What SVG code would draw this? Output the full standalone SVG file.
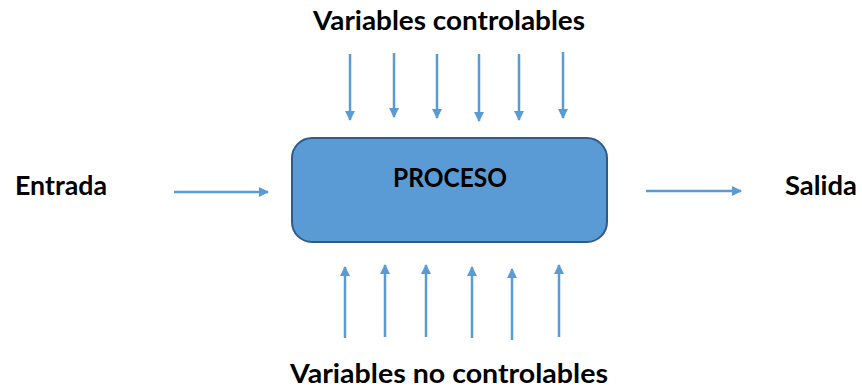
<svg xmlns="http://www.w3.org/2000/svg" width="862" height="390" viewBox="0 0 862 390">
<defs>
<style>
.lbl{font-family:Lato,"Liberation Sans",sans-serif;font-weight:bold;font-size:26px;fill:#000}
.arr{stroke:#5B9BD5;stroke-width:2.5;fill:none;marker-end:url(#ah)}
</style>
<marker id="ah" viewBox="0 0 10 10" refX="9" refY="5" markerWidth="4" markerHeight="4" markerUnits="strokeWidth" orient="auto">
<path d="M0,0 L10,5 L0,10 z" fill="#5B9BD5"/>
</marker>
</defs>
<rect width="862" height="390" fill="#fff"/>
<g id="proceso">
<rect x="292" y="138" width="315" height="104" rx="20" ry="20" fill="#5B9BD5" stroke="#2E5C8A" stroke-width="2"/>
<text class="lbl" x="393" y="187" textLength="114" lengthAdjust="spacingAndGlyphs">PROCESO</text>
</g>
<g id="entrada"><text class="lbl" x="15" y="195" textLength="92" lengthAdjust="spacingAndGlyphs">Entrada</text></g>
<g id="salida"><text class="lbl" x="785" y="195" textLength="72" lengthAdjust="spacingAndGlyphs">Salida</text></g>
<g id="var-controlables"><text class="lbl" x="313" y="30" textLength="272" lengthAdjust="spacingAndGlyphs">Variables controlables</text></g>
<g id="var-no-controlables"><text class="lbl" x="290" y="383" textLength="318" lengthAdjust="spacingAndGlyphs">Variables no controlables</text></g>
<g id="connectors">
<line class="arr" x1="174" y1="192" x2="268" y2="192"/>
<line class="arr" x1="646" y1="191" x2="741" y2="191"/>
<line class="arr" x1="350" y1="54" x2="350" y2="120"/>
<line class="arr" x1="394" y1="53" x2="394" y2="117"/>
<line class="arr" x1="437" y1="54" x2="437" y2="118"/>
<line class="arr" x1="479" y1="54" x2="479" y2="121"/>
<line class="arr" x1="519" y1="54" x2="519" y2="120"/>
<line class="arr" x1="563" y1="52" x2="563" y2="118"/>
<line class="arr" x1="345" y1="338" x2="345" y2="267"/>
<line class="arr" x1="385" y1="337" x2="385" y2="265"/>
<line class="arr" x1="426" y1="337" x2="426" y2="265"/>
<line class="arr" x1="472" y1="338" x2="472" y2="267"/>
<line class="arr" x1="512" y1="340" x2="512" y2="269"/>
<line class="arr" x1="559" y1="337" x2="559" y2="265"/>
</g>
</svg>
